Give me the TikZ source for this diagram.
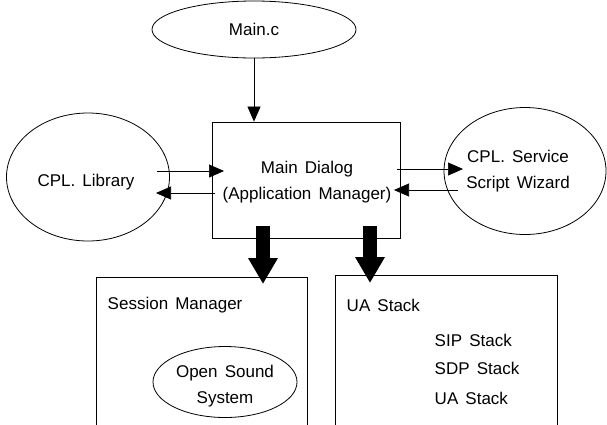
\documentclass[tikz,border=0pt]{standalone}
\usepackage{fontspec}
\setmainfont{Liberation Sans}
\usetikzlibrary{arrows.meta,shapes.geometric}
\newcommand{\wsp}{\hspace{0.42em}}
\tikzset{
  lbl/.style={font=\fontsize{17}{26}\selectfont},
  thin arrow/.style={line width=0.7pt,-{Triangle[length=15pt,width=13pt]}},
  fat arrow/.style={line width=14pt,-{Triangle[length=26pt,width=28pt]}},
}
\begin{document}
\begin{tikzpicture}[x=1pt,y=-1pt,line width=0.8pt]
        \useasboundingbox (0,0) rectangle (607,424);
        \clip (0,0) rectangle (607,424);

        \node[draw, ellipse, minimum width=204pt, minimum height=57pt, lbl] (mainc) at (254, 29.5) {Main.c};
        \node[draw, ellipse, minimum width=163pt, minimum height=128pt, lbl] (lib) at (88, 177) {};
        \node[lbl] at (86, 182) {CPL.\wsp Library};
        \node[draw, ellipse, minimum width=162pt, minimum height=127pt] (wiz) at (525, 171) {};
        \node[lbl, align=center] at (518, 171) {CPL.\wsp Service\\Script\wsp Wizard};
        \node[draw, minimum width=188pt, minimum height=116pt] (dlg) at (306, 180) {};
        \node[lbl, align=center] at (307, 182) {Main\wsp Dialog\\(Application\wsp Manager)};

        \draw (96, 277) -- (96, 430) -- (307, 430) -- (307, 277) -- cycle;
        \node[lbl, anchor=west] (sess) at (104, 305) {Session\wsp Manager};
        \node[draw, ellipse, minimum width=144pt, minimum height=71pt] (oss) at (225, 382) {};
        \node[lbl, align=center] at (225, 386) {Open\wsp Sound\\System};

        \draw (335, 275) -- (335, 430) -- (557, 430) -- (557, 275) -- cycle;
        \node[lbl, anchor=west] (ua) at (343, 305) {UA\wsp Stack};
        \node[lbl, anchor=west] (sip) at (431, 340) {SIP\wsp Stack};
        \node[lbl, anchor=west] (sdp) at (431, 368) {SDP\wsp Stack};
        \node[lbl, anchor=west] (uas) at (431, 398) {UA\wsp Stack};

        \coordinate (l1) at (157, 171);
        \coordinate (d1) at (224, 171);
        \coordinate (d2) at (215, 193);
        \coordinate (l2) at (156, 193);
        \coordinate (d3) at (397, 169);
        \coordinate (w1) at (463, 169);
        \coordinate (w2) at (458, 190);
        \coordinate (d4) at (394, 190);
        \coordinate (s1) at (263, 226);
        \coordinate (s2) at (263, 284);
        \coordinate (u1) at (370, 226);
        \coordinate (u2) at (370, 283);

        \draw[thin arrow] (mainc.south) -- (mainc.south |- dlg.north);
        \draw[thin arrow] (l1) -- (d1);
        \draw[thin arrow] (d2) -- (l2);
        \draw[thin arrow] (d3) -- (w1);
        \draw[thin arrow] (w2) -- (d4);
        \draw[fat arrow] (s1) -- (s2);
        \draw[fat arrow] (u1) -- (u2);
\end{tikzpicture}
\end{document}
